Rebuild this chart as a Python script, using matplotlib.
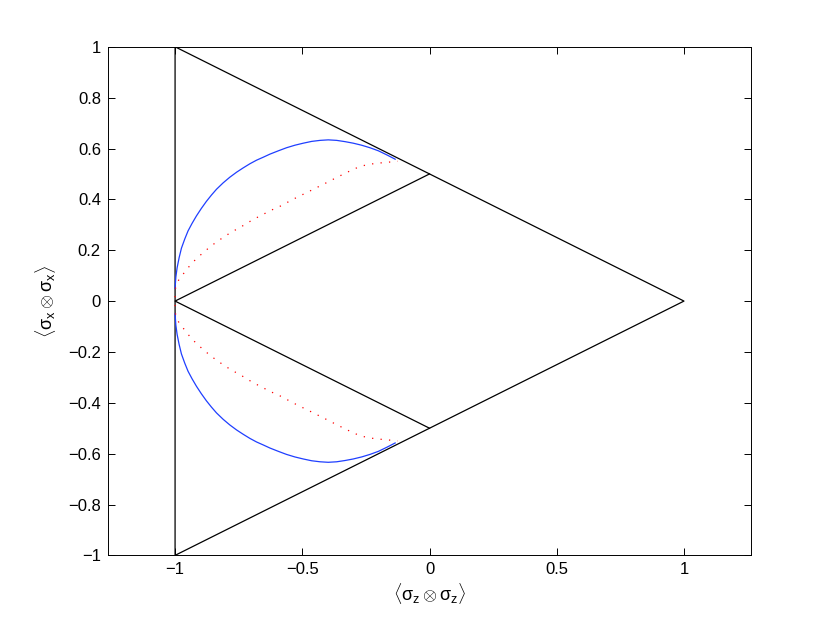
import numpy as np
import matplotlib
matplotlib.use("Agg")
import matplotlib.pyplot as plt

# region boundary (black lines)
outer_x = [-1, 1, -1, -1]
outer_y = [1, 0, -1, 1]
inner_x = [0, -1, 0]
inner_y = [0.5, 0, -0.5]

# blue curve, upper half (lower half is its mirror image)
blue_x = [-1.0, -0.997, -0.992, -0.984, -0.975, -0.962, -0.949, -0.933, -0.916, -0.897,
          -0.877, -0.857, -0.837, -0.811, -0.785, -0.758, -0.732, -0.706, -0.680, -0.653,
          -0.627, -0.594, -0.562, -0.529, -0.496, -0.463, -0.430, -0.398, -0.365, -0.332,
          -0.300, -0.267, -0.234, -0.201, -0.168, -0.135]
blue_y = [0.05, 0.094, 0.131, 0.171, 0.208, 0.244, 0.276, 0.306, 0.335, 0.364,
          0.392, 0.417, 0.440, 0.465, 0.487, 0.507, 0.524, 0.540, 0.554, 0.566,
          0.578, 0.591, 0.603, 0.613, 0.621, 0.628, 0.632, 0.634, 0.632, 0.627,
          0.621, 0.613, 0.603, 0.591, 0.575, 0.558]

# red dotted curve, upper half
red_x = [-1.0, -0.998, -0.985, -0.962, -0.940, -0.916, -0.890, -0.863, -0.835, -0.807,
         -0.776, -0.745, -0.715, -0.685, -0.654, -0.623, -0.591, -0.529, -0.466, -0.404,
         -0.371, -0.339, -0.308, -0.277, -0.243, -0.207, -0.174, -0.125]
red_y = [0.015, 0.052, 0.085, 0.114, 0.142, 0.167, 0.190, 0.213, 0.234, 0.253,
         0.273, 0.289, 0.308, 0.325, 0.341, 0.357, 0.371, 0.404, 0.435, 0.466,
         0.483, 0.499, 0.514, 0.528, 0.537, 0.542, 0.545, 0.550]

x_ticks = [-1, -0.5, 0, 0.5, 1]
x_labels = ["\u22121", "\u22120.5", "0", "0.5", "1"]
y_ticks = [-1, -0.8, -0.6, -0.4, -0.2, 0, 0.2, 0.4, 0.6, 0.8, 1]
y_labels = ["\u22121", "\u22120.8", "\u22120.6", "\u22120.4", "\u22120.2", "0",
            "0.2", "0.4", "0.6", "0.8", "1"]

plt.rcParams['font.family'] = ['Liberation Sans', 'DejaVu Sans']
plt.rcParams['mathtext.fontset'] = 'custom'
plt.rcParams['mathtext.rm'] = 'Liberation Sans'
plt.rcParams['mathtext.it'] = 'Liberation Sans'

fig = plt.figure(figsize=(8.3, 6.24), dpi=100)
ax = fig.add_axes([0.13, 0.11, 0.775, 0.815])

ax.plot(outer_x, outer_y, color='k', lw=0.9)
ax.plot(inner_x, inner_y, color='k', lw=0.9)
ax.plot(blue_x, blue_y, color='#1f3fff', lw=0.9)
ax.plot(blue_x, -np.array(blue_y), color='#1f3fff', lw=0.9)
ax.plot(red_x, red_y, color='r', lw=0.9, linestyle=(0, (1, 5.8)))
ax.plot(red_x, -np.array(red_y), color='r', lw=0.9, linestyle=(0, (1, 5.8)))

ax.set_xlim(-1.264, 1.264)
ax.set_ylim(-1, 1)
ax.set_xticks(x_ticks)
ax.set_xticklabels(x_labels)
ax.set_yticks(y_ticks)
ax.set_yticklabels(y_labels)
ax.tick_params(direction='in', top=True, right=True, length=5, width=0.7, labelsize=12, pad=5)
for s in ax.spines.values():
    s.set_linewidth(0.7)

ax.set_xlabel(r'$\langle\sigma_z\otimes\sigma_z\rangle$', fontsize=13, labelpad=3)
ax.set_ylabel(r'$\langle\sigma_x\otimes\sigma_x\rangle$', fontsize=13, labelpad=7)

fig.savefig('out.png', dpi=100)
